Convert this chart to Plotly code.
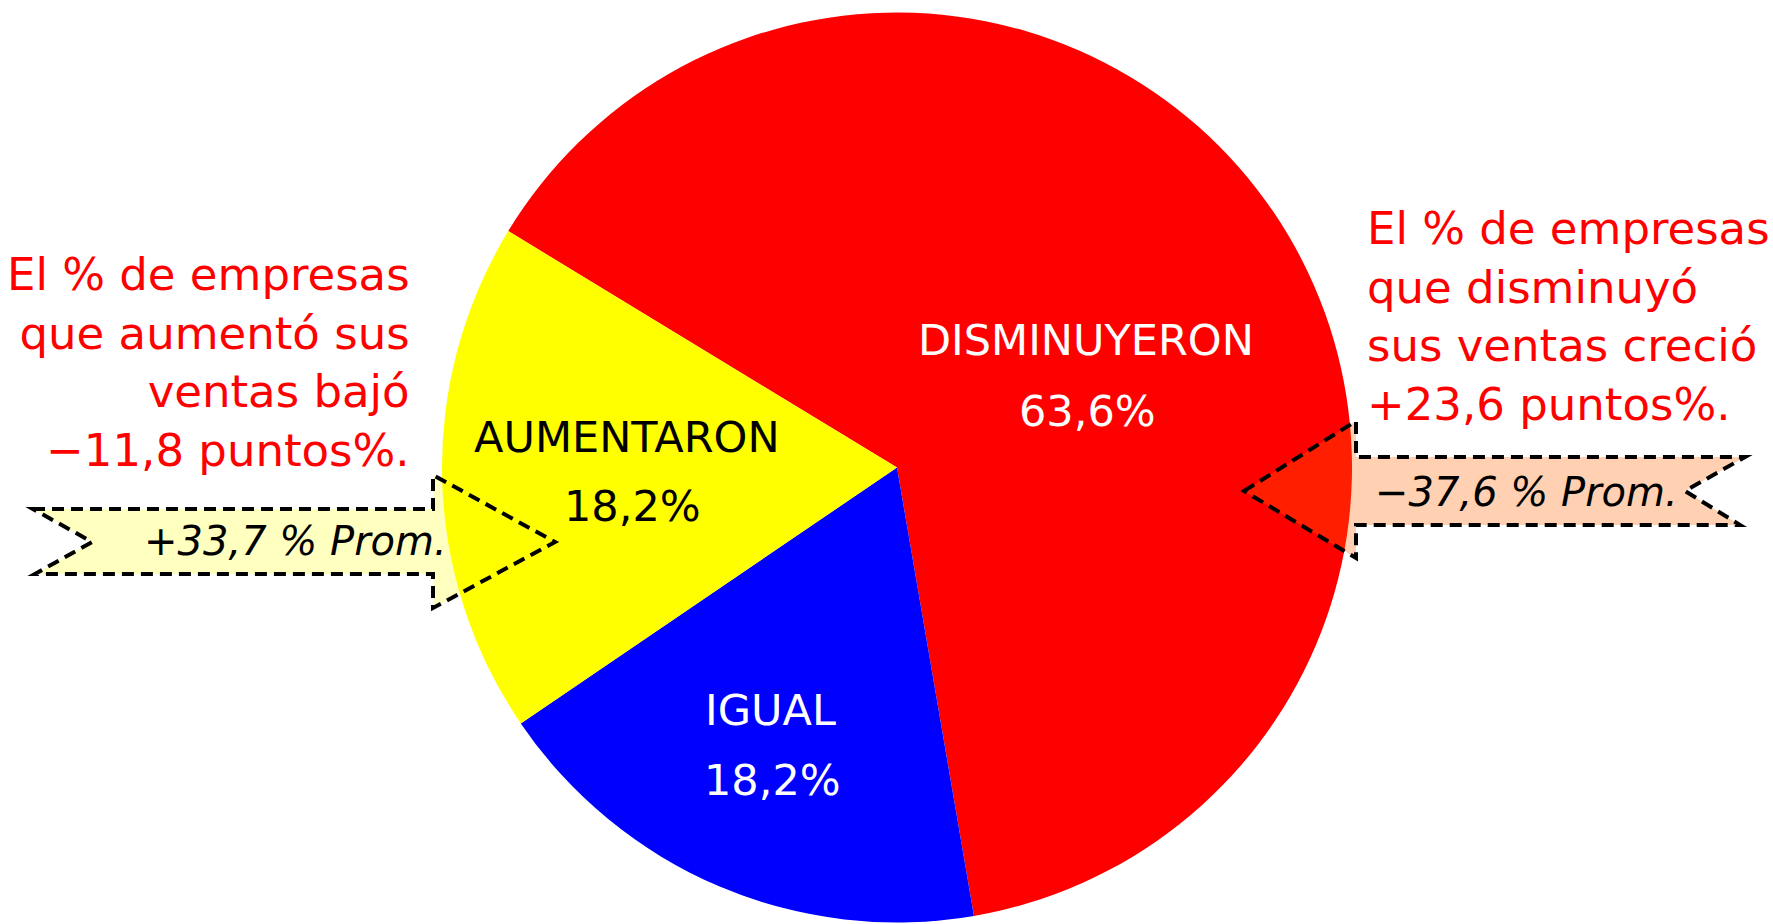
import plotly.graph_objects as go

# ---------------- data ----------------
categories = ["DISMINUYERON", "IGUAL", "AUMENTARON"]
shares = [63.6, 18.2, 18.2]
slice_colors = ["#FF0000", "#0000FF", "#FFFF00"]
label_colors = ["#FFFFFF", "#FFFFFF", "#000000"]

left_note = ["El % de empresas", "que aumentó sus", "ventas bajó", "\u221211,8 puntos%."]
right_note = ["El % de empresas", "que disminuyó", "sus ventas creció", "+23,6 puntos%."]
avg_up = "+33,7 % Prom."
avg_down = "\u221237,6 % Prom."

# ---------------- layout helpers ----------------
W, H = 1773, 924
FONT = "DejaVu Sans"


def px(x):
    return x / W


def py(y):
    return 1 - y / H


def fmt(v):
    return f"{v:.1f}".replace(".", ",") + "%"


fig = go.Figure()
fig.add_trace(go.Pie(
    labels=categories,
    values=shares,
    sort=False,
    direction="clockwise",
    rotation=-58.7,
    marker=dict(colors=slice_colors, line=dict(width=0)),
    textinfo="none",
    hoverinfo="label+percent",
    showlegend=False,
    domain=dict(x=[px(442), px(1352)], y=[py(923), py(12)]),
))

# label placement (pixel positions of name / value lines)
label_pos = {
    "DISMINUYERON": ((1086, 340), (1087, 411)),
    "IGUAL": ((770, 710), (772, 780)),
    "AUMENTARON": ((627, 437), (632, 506)),
}

annotations = []
for cat, val, col in zip(categories, shares, label_colors):
    (nx, ny), (vx, vy) = label_pos[cat]
    annotations.append(dict(x=px(nx), y=py(ny), xref="paper", yref="paper",
                            text=cat, showarrow=False, xanchor="center", yanchor="middle",
                            font=dict(family=FONT, size=43, color=col)))
    annotations.append(dict(x=px(vx), y=py(vy), xref="paper", yref="paper",
                            text=fmt(val), showarrow=False, xanchor="center", yanchor="middle",
                            font=dict(family=FONT, size=43, color=col)))

annotations.append(dict(x=px(412), y=py(362), xref="paper", yref="paper",
                        text="<br>".join(left_note), showarrow=False, align="right",
                        xanchor="right", yanchor="middle",
                        font=dict(family=FONT, size=45, color="#FF0000")))
annotations.append(dict(x=px(1365), y=py(316), xref="paper", yref="paper",
                        text="<br>".join(right_note), showarrow=False, align="left",
                        xanchor="left", yanchor="middle",
                        font=dict(family=FONT, size=45, color="#FF0000")))

annotations.append(dict(x=px(295), y=py(541), xref="paper", yref="paper",
                        text="<i>" + avg_up + "</i>", showarrow=False,
                        xanchor="center", yanchor="middle",
                        font=dict(family=FONT, size=40, color="#000000")))
annotations.append(dict(x=px(1526), y=py(492), xref="paper", yref="paper",
                        text="<i>" + avg_down + "</i>", showarrow=False,
                        xanchor="center", yanchor="middle",
                        font=dict(family=FONT, size=40, color="#000000")))


def path(points):
    s = "M " + " L ".join(f"{px(x):.5f},{py(y):.5f}" for x, y in points) + " Z"
    return s


left_arrow = [(33, 509), (433, 509), (433, 475), (555, 542), (433, 608),
              (433, 574), (35, 574), (92, 542)]
right_arrow = [(1244, 491), (1356, 421), (1356, 457), (1745, 457), (1685, 491),
               (1740, 525), (1356, 525), (1356, 558)]

shapes = [
    dict(type="path", path=path(left_arrow), xref="paper", yref="paper",
         fillcolor="rgba(255,255,0,0.25)", layer="above",
         line=dict(color="#000000", width=4, dash="12px,7px")),
    dict(type="path", path=path(right_arrow), xref="paper", yref="paper",
         fillcolor="rgba(255,100,0,0.30)", layer="above",
         line=dict(color="#000000", width=4, dash="12px,7px")),
]

fig.update_layout(
    width=W, height=H,
    margin=dict(l=0, r=0, t=0, b=0),
    paper_bgcolor="#FFFFFF",
    plot_bgcolor="#FFFFFF",
    annotations=annotations,
    shapes=shapes,
    font=dict(family=FONT),
)

fig.write_html("out.html",
               config={"displayModeBar": False},
               post_script="document.body.style.margin='0';document.body.style.overflow='hidden';")
